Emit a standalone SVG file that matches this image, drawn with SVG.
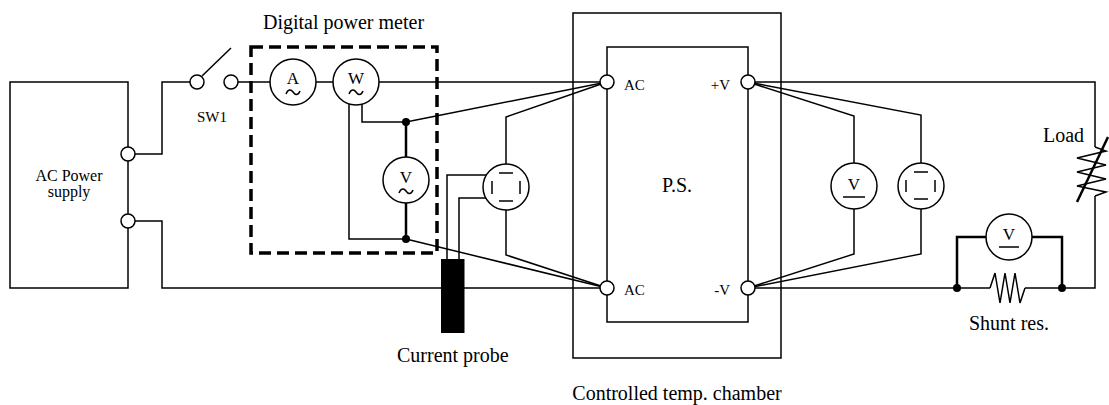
<svg xmlns="http://www.w3.org/2000/svg" width="1109" height="405" viewBox="0 0 1109 405">
<style>
.w{fill:none;stroke:#000;stroke-width:1.5;stroke-linejoin:miter}
.wt{fill:none;stroke:#000;stroke-width:2.5}
.box{fill:none;stroke:#000;stroke-width:1.5}
.term{fill:#fff;stroke:#000;stroke-width:1.5}
.meter{fill:#fff;stroke:#000;stroke-width:1.5}
.dot{fill:#000}
.dash{fill:none;stroke:#000;stroke-width:3.5;stroke-dasharray:12 6}
text{font-family:"Liberation Serif","Times New Roman",serif;fill:#000}
.big{font-size:20px}
.mid{font-size:16px}
.sm{font-size:15px}
.ml{font-size:17px;text-anchor:middle}
.c{text-anchor:middle}
.e{text-anchor:end}
</style>

<g id="connectors">
  <!-- supply to switch -->
  <polyline class="w" points="128,154 162,154 162,82 197,82"/>
  <!-- switch to meters to PS AC top -->
  <polyline class="w" points="231,82 607,82"/>
  <!-- supply lower to PS AC bottom -->
  <polyline class="w" points="128,221 162,221 162,288 607,288"/>
  <!-- wattmeter voltage legs -->
  <polyline class="w" points="362,104 362,122 406,122"/>
  <polyline class="w" points="349,104 349,239 406,239"/>
  <!-- voltmeter across -->
  <line class="wt" x1="406" y1="122" x2="406" y2="157"/>
  <line class="wt" x1="406" y1="203" x2="406" y2="239"/>
  <line class="w" x1="406" y1="122" x2="607" y2="82"/>
  <line class="w" x1="406" y1="239" x2="607" y2="288"/>
  <!-- input scope -->
  <polyline class="w" points="506,164 506,117 607,82"/>
  <polyline class="w" points="506,210 506,255 607,288"/>
  <!-- probe cables -->
  <polyline class="w" points="486,175 447,175 447,260"/>
  <polyline class="w" points="486,198 459,198 459,260"/>
  <!-- output side -->
  <polyline class="w" points="748,82 1095,82 1095,147"/>
  <polyline class="w" points="748,82 854,116 854,163"/>
  <polyline class="w" points="748,82 921,115 921,163"/>
  <polyline class="w" points="748,288 854,254 854,209"/>
  <polyline class="w" points="748,288 921,254 921,209"/>
  <polyline class="w" points="748,288 990,288"/>
  <polyline class="w" points="1025,288 1095,288 1095,196"/>
  <!-- shunt voltmeter -->
  <polyline class="wt" points="957,288 957,237 986,237"/>
  <polyline class="wt" points="1032,237 1062,237 1062,288"/>
</g>

<g id="ac-power-supply">
  <rect class="box" x="10" y="82" width="118" height="206"/>
  <circle class="term" cx="128" cy="154" r="7"/>
  <circle class="term" cx="128" cy="221" r="7"/>
  <text class="mid c" x="69" y="181">AC Power</text>
  <text class="mid c" x="69" y="197">supply</text>
</g>

<g id="sw1">
  <line class="w" x1="202" y1="76" x2="231" y2="48"/>
  <circle class="term" cx="197" cy="82" r="7"/>
  <circle class="term" cx="231" cy="82" r="7"/>
  <text class="sm c" x="212" y="122">SW1</text>
</g>

<g id="digital-power-meter">
  <rect class="dash" x="251" y="47" width="186" height="206"/>
  <text class="big" x="263" y="29">Digital power meter</text>
</g>

<g id="ammeter">
  <circle class="meter" cx="293" cy="82" r="23"/>
  <text class="ml" x="293" y="84">A</text>
  <path class="w" d="M286,94 C288,89 291,89 293,92 S298,96 300,91"/>
</g>

<g id="wattmeter">
  <circle class="meter" cx="356" cy="82" r="23"/>
  <text class="ml" x="356" y="84">W</text>
  <path class="w" d="M349,94 C351,89 354,89 356,92 S361,96 363,91"/>
</g>

<g id="voltmeter-ac">
  <circle class="meter" cx="406" cy="180" r="23"/>
  <text class="ml" x="406" y="183">V</text>
  <path class="w" d="M399,193 C401,188 404,188 406,191 S411,195 413,190"/>
  <circle class="dot" cx="406" cy="122" r="4"/>
  <circle class="dot" cx="406" cy="239" r="4"/>
</g>

<g id="oscilloscope-input">
  <circle class="meter" cx="506" cy="187" r="23"/>
  <path class="w" d="M499,173 H513 M499,201 H513 M492,181 V194 M520,181 V194"/>
</g>

<g id="current-probe">
  <rect x="441" y="259" width="23.5" height="74" fill="#000"/>
  <text class="big" x="397" y="362">Current probe</text>
</g>

<g id="temp-chamber">
  <rect class="box" x="573" y="13" width="208" height="345"/>
  <text class="big c" x="677" y="400">Controlled temp. chamber</text>
</g>

<g id="power-supply">
  <rect class="box" x="607" y="47" width="141" height="275"/>
  <circle class="term" cx="607" cy="82" r="7"/>
  <circle class="term" cx="607" cy="288" r="7"/>
  <circle class="term" cx="748" cy="82" r="7"/>
  <circle class="term" cx="748" cy="288" r="7"/>
  <text class="sm" x="624" y="90">AC</text>
  <text class="sm" x="624" y="295">AC</text>
  <text class="sm e" x="730" y="90">+V</text>
  <text class="sm e" x="730" y="295">-V</text>
  <text class="big c" x="677" y="192">P.S.</text>
</g>

<g id="voltmeter-output">
  <circle class="meter" cx="854" cy="186" r="23"/>
  <text class="ml" x="854" y="190">V</text>
  <line class="w" x1="843" y1="197" x2="865" y2="197"/>
</g>

<g id="oscilloscope-output">
  <circle class="meter" cx="921" cy="186" r="23"/>
  <path class="w" d="M914,172 H928 M914,199 H928 M906,180 V192 M935,180 V192"/>
</g>

<g id="load">
  <polyline class="w" points="1095,147 1106,151 1077,158 1106,165 1077,172 1106,179 1077,186 1106,192 1095,196"/>
  <line class="wt" x1="1077" y1="202" x2="1108" y2="137"/>
  <text class="big" x="1043" y="142">Load</text>
</g>

<g id="shunt-resistor">
  <polyline class="w" points="990,288 995,273 1000,303 1005,273 1010,303 1015,273 1020,303 1025,288"/>
  <circle class="dot" cx="957" cy="288" r="4"/>
  <circle class="dot" cx="1062" cy="288" r="4"/>
  <text class="big" x="969" y="330">Shunt res.</text>
</g>

<g id="voltmeter-shunt">
  <circle class="meter" cx="1009" cy="237" r="23"/>
  <text class="ml" x="1009" y="240">V</text>
  <line class="w" x1="999" y1="247" x2="1019" y2="247"/>
</g>
</svg>
